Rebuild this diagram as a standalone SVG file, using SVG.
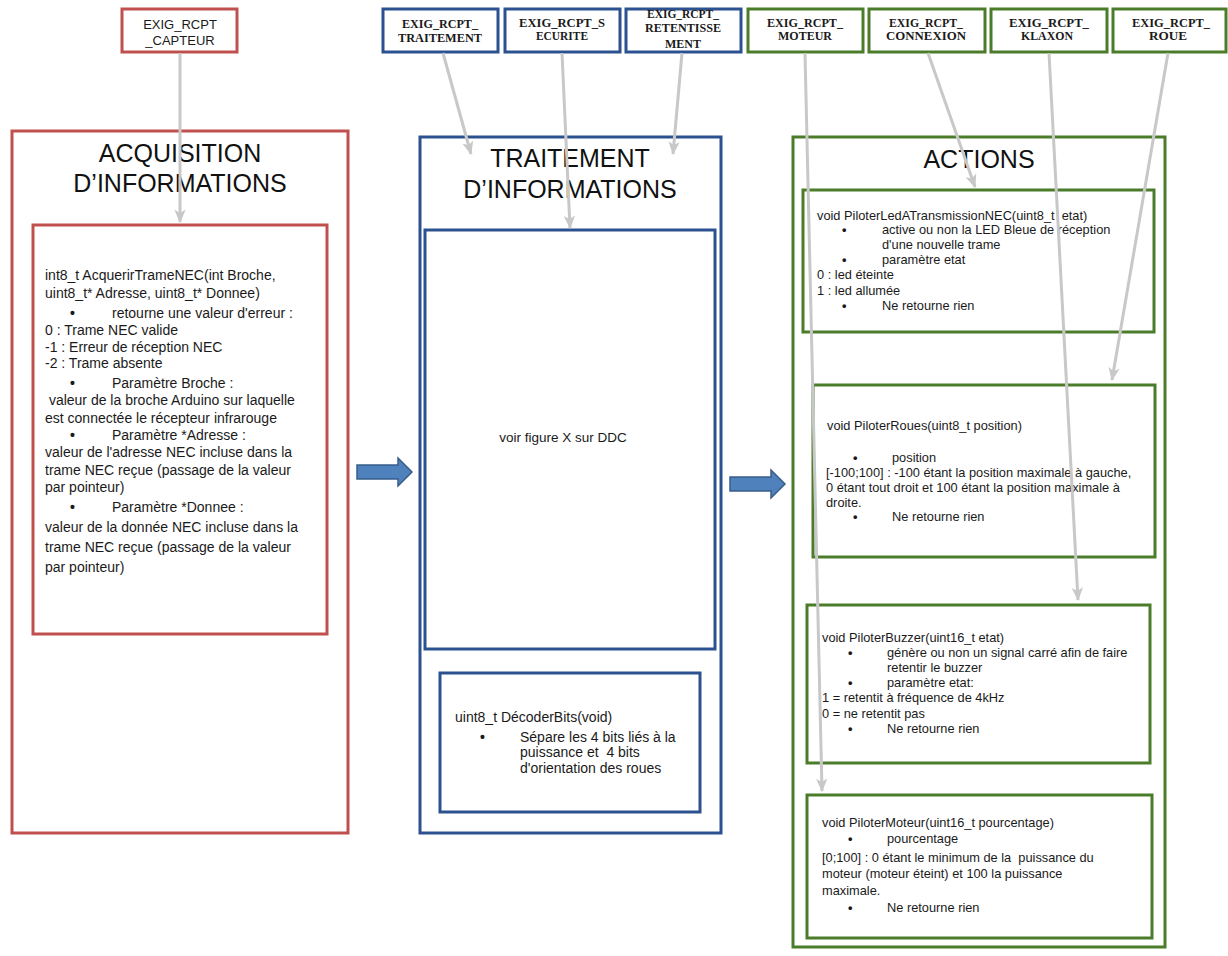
<svg xmlns="http://www.w3.org/2000/svg" width="1228" height="956" viewBox="0 0 1228 956">
  <style>
    .bg { fill: #ffffff; }
    .red { fill: #ffffff; stroke: #c0504d; stroke-width: 3; }
    .blue { fill: #ffffff; stroke: #2c5190; stroke-width: 3; }
    .green { fill: #ffffff; stroke: #4a7c2a; stroke-width: 3; }
    .lbl-sans { font-family: "Liberation Sans", Arial, sans-serif; font-size: 13px; fill: #1a1a1a; text-anchor: middle; }
    .lbl-serif { font-family: "Liberation Serif", "Times New Roman", serif; font-size: 12.5px; font-weight: bold; fill: #1a1a1a; text-anchor: middle; }
    .title { font-family: "Liberation Sans", Arial, sans-serif; font-size: 25px; fill: #111111; text-anchor: middle; }
    .body { font-family: "Liberation Sans", Arial, sans-serif; font-size: 12.8px; fill: #1a1a1a; white-space: pre; }
    .body14 { font-family: "Liberation Sans", Arial, sans-serif; font-size: 14px; fill: #1a1a1a; white-space: pre; }
    .dot { font-weight: bold; }
    .conn { fill: none; stroke: #c8c8c8; stroke-width: 3; marker-end: url(#head); }
    .block { fill: #4f81bd; stroke: #385d8a; stroke-width: 1.5; }
  </style>
  <defs>
    <marker id="head" viewBox="0 0 12 10" refX="11" refY="5" markerWidth="4.5" markerHeight="4.5" orient="auto" markerUnits="strokeWidth">
      <path d="M0,0 L12,5 L0,10 L3,5 z" fill="#c8c8c8"/>
    </marker>
  </defs>

  <rect class="bg" x="0" y="0" width="1228" height="956"/>

  <!-- requirement labels -->
  <g id="req-capteur">
    <rect class="red" x="122" y="9" width="115" height="43"/>
    <text class="lbl-sans" x="180" y="29">EXIG_RCPT</text>
    <text class="lbl-sans" x="180" y="45">_CAPTEUR</text>
  </g>
  <g id="req-traitement">
    <rect class="blue" x="383" y="9" width="115" height="43"/>
    <text class="lbl-serif" x="440" y="28" textLength="76" lengthAdjust="spacingAndGlyphs">EXIG_RCPT_</text>
    <text class="lbl-serif" x="440" y="42" textLength="84" lengthAdjust="spacingAndGlyphs">TRAITEMENT</text>
  </g>
  <g id="req-securite">
    <rect class="blue" x="505" y="9" width="115" height="43"/>
    <text class="lbl-serif" x="562" y="27" textLength="86" lengthAdjust="spacingAndGlyphs">EXIG_RCPT_S</text>
    <text class="lbl-serif" x="562" y="40" textLength="52" lengthAdjust="spacingAndGlyphs">ECURITE</text>
  </g>
  <g id="req-retentissement">
    <rect class="blue" x="626" y="9" width="115" height="43"/>
    <text class="lbl-serif" x="683" y="18" textLength="72" lengthAdjust="spacingAndGlyphs">EXIG_RCPT_</text>
    <text class="lbl-serif" x="683" y="32" textLength="76" lengthAdjust="spacingAndGlyphs">RETENTISSE</text>
    <text class="lbl-serif" x="683" y="48" textLength="36" lengthAdjust="spacingAndGlyphs">MENT</text>
  </g>
  <g id="req-moteur">
    <rect class="green" x="748" y="9" width="115" height="43"/>
    <text class="lbl-serif" x="805" y="27" textLength="76" lengthAdjust="spacingAndGlyphs">EXIG_RCPT_</text>
    <text class="lbl-serif" x="805" y="40" textLength="54" lengthAdjust="spacingAndGlyphs">MOTEUR</text>
  </g>
  <g id="req-connexion">
    <rect class="green" x="869" y="9" width="116" height="43"/>
    <text class="lbl-serif" x="926" y="27" textLength="74" lengthAdjust="spacingAndGlyphs">EXIG_RCPT_</text>
    <text class="lbl-serif" x="926" y="40" textLength="80" lengthAdjust="spacingAndGlyphs">CONNEXION</text>
  </g>
  <g id="req-klaxon">
    <rect class="green" x="991" y="9" width="116" height="43"/>
    <text class="lbl-serif" x="1049" y="27" textLength="80" lengthAdjust="spacingAndGlyphs">EXIG_RCPT_</text>
    <text class="lbl-serif" x="1047" y="40" textLength="52" lengthAdjust="spacingAndGlyphs">KLAXON</text>
  </g>
  <g id="req-roue">
    <rect class="green" x="1113" y="9" width="113" height="43"/>
    <text class="lbl-serif" x="1171" y="27" textLength="78" lengthAdjust="spacingAndGlyphs">EXIG_RCPT_</text>
    <text class="lbl-serif" x="1168" y="40" textLength="38" lengthAdjust="spacingAndGlyphs">ROUE</text>
  </g>

  <!-- acquisition column -->
  <g id="acquisition">
    <rect class="red" x="12" y="131" width="336" height="702"/>
    <text class="title" x="180" y="162">ACQUISITION</text>
    <text class="title" x="180" y="192">D’INFORMATIONS</text>
  </g>
  <g id="acquerir-trame">
    <rect class="red" x="33" y="225" width="294" height="409"/>
    <text class="body14" x="45" y="280">int8_t AcquerirTrameNEC(int Broche,</text>
    <text class="body14" x="45" y="298">uint8_t* Adresse, uint8_t* Donnee)</text>
    <text class="body14 dot" x="70" y="318">•</text>
    <text class="body14" x="112" y="318">retourne une valeur d'erreur :</text>
    <text class="body14" x="45" y="335">0 : Trame NEC valide</text>
    <text class="body14" x="45" y="352">-1 : Erreur de réception NEC</text>
    <text class="body14" x="45" y="368">-2 : Trame absente</text>
    <text class="body14 dot" x="70" y="388">•</text>
    <text class="body14" x="112" y="388">Paramètre Broche :</text>
    <text class="body14" x="45" y="405"> valeur de la broche Arduino sur laquelle</text>
    <text class="body14" x="45" y="423">est connectée le récepteur infrarouge</text>
    <text class="body14 dot" x="70" y="440">•</text>
    <text class="body14" x="112" y="440">Paramètre *Adresse :</text>
    <text class="body14" x="45" y="457">valeur de l'adresse NEC incluse dans la</text>
    <text class="body14" x="45" y="475">trame NEC reçue (passage de la valeur</text>
    <text class="body14" x="45" y="492">par pointeur)</text>
    <text class="body14 dot" x="70" y="512">•</text>
    <text class="body14" x="112" y="512">Paramètre *Donnee :</text>
    <text class="body14" x="45" y="532">valeur de la donnée NEC incluse dans la</text>
    <text class="body14" x="45" y="552">trame NEC reçue (passage de la valeur</text>
    <text class="body14" x="45" y="572">par pointeur)</text>
  </g>

  <!-- processing column -->
  <g id="traitement">
    <rect class="blue" x="420" y="137" width="301" height="696"/>
    <text class="title" x="570" y="167">TRAITEMENT</text>
    <text class="title" x="570" y="198">D’INFORMATIONS</text>
  </g>
  <g id="figure-ddc">
    <rect class="blue" x="425" y="230" width="290" height="419"/>
    <text class="body" x="563" y="442" text-anchor="middle" style="font-size:13.5px">voir figure X sur DDC</text>
  </g>
  <g id="decoder-bits">
    <rect class="blue" x="440" y="673" width="260" height="139"/>
    <text class="body14" x="455" y="722">uint8_t DécoderBits(void)</text>
    <text class="body14 dot" x="480" y="742">•</text>
    <text class="body14" x="520" y="742">Sépare les 4 bits liés à la</text>
    <text class="body14" x="520" y="757">puissance et  4 bits</text>
    <text class="body14" x="520" y="773">d'orientation des roues</text>
  </g>

  <!-- actions column -->
  <g id="actions">
    <rect class="green" x="793" y="137" width="372" height="810"/>
    <text class="title" x="979" y="168">ACTIONS</text>
  </g>
  <g id="piloter-led">
    <rect class="green" x="803" y="190" width="351" height="142"/>
    <text class="body" x="817" y="220">void PiloterLedATransmissionNEC(uint8_t  etat)</text>
    <text class="body dot" x="842" y="234">•</text>
    <text class="body" x="882" y="234">active ou non la LED Bleue de réception</text>
    <text class="body" x="882" y="249">d'une nouvelle trame</text>
    <text class="body dot" x="842" y="264">•</text>
    <text class="body" x="882" y="264">paramètre etat</text>
    <text class="body" x="817" y="279">0 : led éteinte</text>
    <text class="body" x="817" y="295">1 : led allumée</text>
    <text class="body dot" x="842" y="310">•</text>
    <text class="body" x="882" y="310">Ne retourne rien</text>
  </g>
  <g id="piloter-roues">
    <rect class="green" x="813" y="385" width="342" height="172"/>
    <text class="body" x="827" y="430">void PiloterRoues(uint8_t position)</text>
    <text class="body dot" x="853" y="462">•</text>
    <text class="body" x="892" y="462">position</text>
    <text class="body" x="826" y="477">[-100;100] : -100 étant la position maximale à gauche,</text>
    <text class="body" x="826" y="492">0 étant tout droit et 100 étant la position maximale à</text>
    <text class="body" x="826" y="507">droite.</text>
    <text class="body dot" x="853" y="521">•</text>
    <text class="body" x="892" y="521">Ne retourne rien</text>
  </g>
  <g id="piloter-buzzer">
    <rect class="green" x="807" y="605" width="343" height="158"/>
    <text class="body" x="822" y="642">void PiloterBuzzer(uint16_t etat)</text>
    <text class="body dot" x="848" y="657">•</text>
    <text class="body" x="887" y="657">génère ou non un signal carré afin de faire</text>
    <text class="body" x="887" y="672">retentir le buzzer</text>
    <text class="body dot" x="848" y="687">•</text>
    <text class="body" x="887" y="687">paramètre etat:</text>
    <text class="body" x="822" y="702">1 = retentit à fréquence de 4kHz</text>
    <text class="body" x="822" y="718">0 = ne retentit pas</text>
    <text class="body dot" x="848" y="733">•</text>
    <text class="body" x="887" y="733">Ne retourne rien</text>
  </g>
  <g id="piloter-moteur">
    <rect class="green" x="807" y="795" width="345" height="143"/>
    <text class="body" x="822" y="827">void PiloterMoteur(uint16_t pourcentage)</text>
    <text class="body dot" x="848" y="843">•</text>
    <text class="body" x="887" y="843">pourcentage</text>
    <text class="body" x="822" y="862">[0;100] : 0 étant le minimum de la  puissance du</text>
    <text class="body" x="822" y="878">moteur (moteur éteint) et 100 la puissance</text>
    <text class="body" x="822" y="895">maximale.</text>
    <text class="body dot" x="848" y="912">•</text>
    <text class="body" x="887" y="912">Ne retourne rien</text>
  </g>

  <!-- flow between columns -->
  <g id="flow">
    <path class="block" d="M357,465 L398,465 L398,458 L412,472 L398,486 L398,479 L357,479 Z"/>
    <path class="block" d="M730,477 L771,477 L771,470 L785,484 L771,498 L771,491 L730,491 Z"/>
  </g>

  <!-- requirement links -->
  <g id="connectors">
    <line class="conn" x1="180" y1="53" x2="180" y2="222"/>
    <line class="conn" x1="443" y1="53" x2="471" y2="154"/>
    <line class="conn" x1="562" y1="53" x2="570" y2="228"/>
    <line class="conn" x1="682" y1="53" x2="673" y2="154"/>
    <line class="conn" x1="805" y1="53" x2="822" y2="791"/>
    <line class="conn" x1="928" y1="53" x2="975" y2="187"/>
    <line class="conn" x1="1049" y1="53" x2="1078" y2="600"/>
    <line class="conn" x1="1168" y1="53" x2="1112" y2="380"/>
  </g>
</svg>
